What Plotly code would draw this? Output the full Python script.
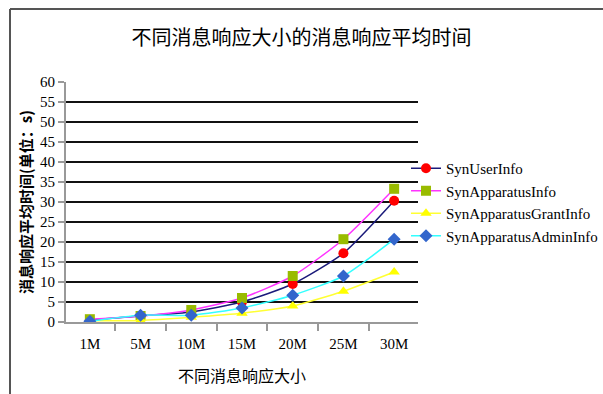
import plotly.graph_objects as go

# Message sizes and average response time (seconds) per message type
sizes = ["1M", "5M", "10M", "15M", "20M", "25M", "30M"]
syn_user_info = [0.5, 1.5, 2.5, 5.0, 9.5, 17.2, 30.3]
syn_apparatus_info = [0.7, 1.5, 3.0, 6.0, 11.5, 20.7, 33.3]
syn_apparatus_grant_info = [0.3, 0.4, 1.2, 2.2, 4.0, 7.7, 12.5]
syn_apparatus_admin_info = [0.2, 1.7, 1.7, 3.5, 6.7, 11.5, 20.7]

W, H = 603, 394
narrow = "Liberation Serif, serif"
tick_font = dict(family=narrow, size=15, color="#000")
cjk = "Noto Sans CJK SC"

series = [
    ("SynUserInfo", syn_user_info, "#1a1a7a", "#ff0000", "circle", 10),
    ("SynApparatusInfo", syn_apparatus_info, "#ff33ff", "#99bb00", "square", 10),
    ("SynApparatusGrantInfo", syn_apparatus_grant_info, "#ffff33", "#ffff00", "triangle-up", 10),
    ("SynApparatusAdminInfo", syn_apparatus_admin_info, "#33ffff", "#3366cc", "diamond", 10),
]

fig = go.Figure()
for name, vals, lc, mc, sym, sz in series:
    fig.add_trace(go.Scatter(
        x=sizes, y=vals, name=name, mode="lines+markers",
        line=dict(color=lc, width=1.5, shape="spline", smoothing=0.6),
        marker=dict(color=mc, symbol=sym, size=sz, line=dict(width=0)),
    ))

# plot area in pixels
px_l, px_r, px_t, px_b = 66, 418, 82, 322

fig.update_layout(
    width=W, height=H,
    margin=dict(l=0, r=0, t=0, b=0, autoexpand=False),
    paper_bgcolor="white", plot_bgcolor="white",
    showlegend=True,
    title=dict(text="不同消息响应大小的消息响应平均时间", x=0.5, xanchor="center",
               y=1 - 38 / H, yanchor="middle", xref="paper",
               font=dict(family=cjk, size=20, color="#000")),
    xaxis=dict(
        domain=[px_l / W, px_r / W], type="category", automargin=False,
        showgrid=False, showline=True, linecolor="#999", linewidth=2,
        ticks="outside", tickson="boundaries", ticklen=7, tickcolor="#999", tickwidth=1.5,
        tickfont=tick_font, zeroline=False, ticklabelstandoff=7,
        title=dict(text="不同消息响应大小", font=dict(family=cjk, size=16, color="#000"), standoff=20),
    ),
    yaxis=dict(
        domain=[1 - px_b / H, 1 - px_t / H], range=[0, 60], dtick=5, automargin=False,
        showgrid=True, gridcolor="#111", gridwidth=1.5,
        showline=True, linecolor="#999", linewidth=2,
        ticks="outside", ticklen=6, tickcolor="#999", tickwidth=1.5,
        tickfont=tick_font, zeroline=False,
        title=dict(text="<b>消息响应平均时间(单位：s)</b>", font=dict(family=cjk, size=15, color="#000"), standoff=4),
    ),
    legend=dict(
        x=406 / W, xanchor="left", y=1 - 152 / H, yanchor="top",
        font=dict(family=narrow, size=15, color="#000"),
        bgcolor="rgba(0,0,0,0)", itemwidth=30, tracegroupgap=0,
    ),
    shapes=[
        dict(type="line", xref="paper", yref="paper",
             x0=10 / W, x1=10 / W, y0=0, y1=1 - 9 / H,
             line=dict(color="#555", width=2)),
        dict(type="line", xref="paper", yref="paper",
             x0=10 / W, x1=1, y0=1 - 9 / H, y1=1 - 9 / H,
             line=dict(color="#555", width=2)),
    ],
)

fig.write_html("out.html")
